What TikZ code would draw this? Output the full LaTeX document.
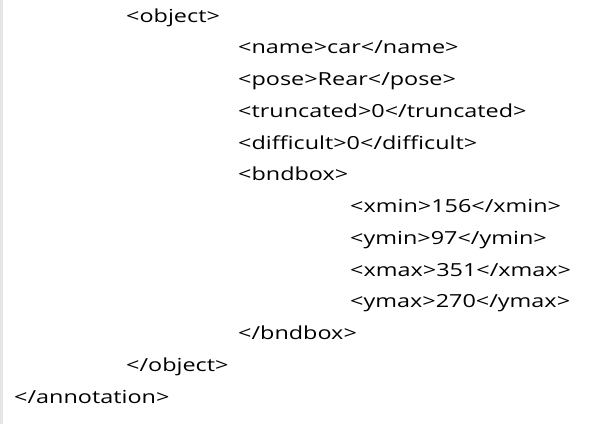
\documentclass[tikz,border=0pt]{standalone}
\usepackage{fontspec}
\newfontfamily\xmlfont[FakeStretch=1.3]{Open Sans}
\definecolor{sidebar}{HTML}{E6E6E6}
\begin{document}
\begin{tikzpicture}[x=1pt,y=-1pt,
	tag/.style={anchor=base west,inner sep=0pt,font=\xmlfont\fontsize{18}{20}\selectfont}]
	\useasboundingbox (0,0) rectangle (599,424);
	\fill [sidebar] (0,0) rectangle (3,424);
	% livello 1: object
	\node [tag] (objopen) at (126,22) {<object>};
	% livello 2: campi dell'oggetto
	\node [tag] (name) at (238,53.75) {<name>car</name>};
	\node [tag] (pose) at (238,85.5) {<pose>Rear</pose>};
	\node [tag] (trunc) at (238,117.25) {<truncated>0</truncated>};
	\node [tag] (diff) at (238,149) {<difficult>0</difficult>};
	\node [tag] (bbopen) at (238,180.75) {<bndbox>};
	% livello 3: coordinate del box
	\node [tag] (xmin) at (350,212.5) {<xmin>156</xmin>};
	\node [tag] (ymin) at (350,244.25) {<ymin>97</ymin>};
	\node [tag] (xmax) at (350,276) {<xmax>351</xmax>};
	\node [tag] (ymax) at (350,307.75) {<ymax>270</ymax>};
	\node [tag] (bbclose) at (238,339.5) {</bndbox>};
	\node [tag] (objclose) at (126,371.25) {</object>};
	\node [tag] (annclose) at (14,403) {</annotation>};
\end{tikzpicture}
\end{document}
